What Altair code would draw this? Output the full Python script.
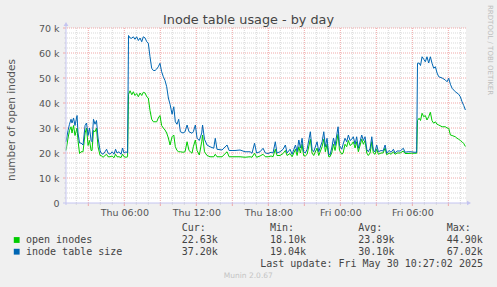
import altair as alt
import pandas as pd

# ---- data (hours since Thu 00:00, values in thousands) ----
hours = [1.14,1.31,1.43,1.56,1.64,1.77,1.89,2.06,2.14,2.27,2.39,2.56,2.73,2.85,2.98,3.10,3.23,3.31,3.43,3.56,3.68,3.81,3.98,
         4.06,4.23,4.39,4.52,4.64,4.81,4.98,5.14,5.27,5.39,5.56,5.73,5.85,5.98,6.14,6.27,
         6.35,6.48,6.62,6.75,6.89,7.03,7.17,7.31,7.45,7.58,7.73,7.87,8.00,
         8.14,8.28,8.42,8.56,8.70,8.83,8.97,9.11,9.25,9.39,9.53,9.67,9.81,
         9.98,10.12,10.25,10.39,10.53,10.67,10.89,11.06,11.23,11.39,11.64,11.75,11.92,12.06,12.25,
         12.45,12.52,12.68,12.89,13.14,13.45,13.58,13.72,14.14,14.56,14.73,15.22,15.64,16.06,16.48,16.64,
         16.85,17.02,17.31,17.56,17.75,17.98,18.23,18.39,18.58,18.72,18.98,19.23,19.42,19.56,19.81,19.98,
         20.26,20.40,20.54,20.67,20.81,20.94,21.08,21.23,21.50,21.64,21.78,22.06,22.20,22.48,22.62,22.75,
         22.89,23.03,23.14,23.28,23.43,23.56,23.81,23.93,24.12,24.23,24.39,24.53,24.67,24.81,24.95,25.08,
         25.23,25.36,25.50,25.78,25.92,26.06,26.20,26.33,26.48,26.62,26.75,26.89,27.03,27.17,27.39,27.56,
         27.73,27.86,28.06,28.23,28.42,28.56,28.73,28.98,29.25,29.39,29.64,29.95,30.14,30.36,
         30.43,30.56,30.68,30.81,30.95,31.08,31.22,31.36,31.50,31.64,31.78,31.92,32.06,32.20,
         32.48,32.75,32.89,33.03,33.17,33.31,33.58,33.72,33.86,34.00,34.14,34.28,34.42]

inode_table_size = [24.5,29.0,31.5,33.5,32.0,34.0,31.0,35.0,28.0,24.0,24.0,23.2,
    31.0,32.0,27.0,30.0,25.0,24.5,33.5,31.5,33.0,26.0,21.0,
    20.0,19.5,20.5,21.5,20.0,19.5,20.5,19.5,21.5,20.0,20.5,19.5,22.0,20.0,20.5,20.0,
    67.0,66.0,65.9,66.5,65.5,66.5,65.0,66.0,64.5,66.5,66.0,64.5,63.9,
    58.5,53.9,53.0,53.0,53.6,54.5,55.9,52.5,50.5,49.0,46.5,42.0,39.5,
    35.5,38.5,32.5,31.5,33.5,28.5,28.0,28.5,31.2,28.5,27.9,28.5,31.2,25.9,25.0,
    28.0,31.2,25.5,23.2,22.5,21.9,25.9,21.5,21.2,23.2,21.0,21.0,21.2,20.5,20.5,19.9,
    23.9,20.0,20.5,21.9,20.0,19.8,20.3,20.0,24.5,20.0,20.5,21.5,23.2,20.0,21.5,19.5,
    23.2,20.5,25.2,22.0,25.9,20.5,20.0,21.5,28.5,21.5,20.5,24.5,20.5,24.5,28.5,22.5,
    25.9,19.5,19.2,22.0,26.0,23.0,30.5,23.0,21.5,23.5,25.9,24.5,27.2,25.0,25.5,26.5,
    23.5,26.5,21.9,27.2,25.0,26.5,21.5,20.5,21.9,26.5,21.0,20.5,23.2,20.5,21.0,20.8,
    23.2,19.9,21.0,20.3,21.5,20.0,20.8,20.8,21.9,20.3,20.5,20.5,20.3,20.3,
    55.9,56.0,55.0,58.5,57.5,56.5,58.5,56.0,58.5,55.9,53.9,54.5,52.0,50.5,
    50.0,49.2,48.5,49.9,47.5,45.9,44.5,44.0,43.5,42.5,40.5,39.0,37.2]

open_inodes = [21.0,26.0,29.0,30.5,28.0,31.0,27.0,30.0,25.0,19.8,20.5,20.5,
    28.0,30.0,23.0,25.0,21.0,21.0,29.0,28.5,30.0,22.5,19.0,
    19.0,18.3,19.0,19.5,18.5,18.5,18.8,18.1,19.5,18.5,18.5,18.2,19.5,18.5,18.3,18.5,
    43.5,44.9,43.3,44.5,43.0,43.8,42.5,44.0,43.0,44.3,44.0,42.5,42.0,
    37.0,33.5,32.5,32.5,32.5,34.0,35.0,31.0,30.0,29.2,28.0,26.0,23.2,
    26.5,27.2,22.5,21.0,20.5,20.5,20.3,20.5,24.5,21.0,19.9,22.5,25.2,21.0,19.2,
    24.5,27.2,20.5,19.0,18.5,18.5,19.5,18.5,18.5,20.5,18.5,18.5,18.5,18.3,18.5,18.3,
    19.9,18.3,18.8,19.5,18.5,18.5,18.8,18.5,21.5,19.0,19.0,19.8,21.0,19.0,19.8,18.5,
    21.5,19.0,22.5,20.0,23.5,19.0,18.8,19.5,25.5,20.0,19.0,22.0,19.0,22.5,25.5,20.5,
    23.5,18.5,18.5,20.0,23.5,21.0,27.5,21.0,19.5,20.0,23.5,22.5,25.0,23.0,23.5,24.5,
    22.0,24.5,20.5,25.5,23.5,25.0,20.0,19.0,20.0,24.5,20.0,19.5,21.5,19.5,20.0,20.0,
    22.0,19.3,20.0,19.5,20.5,19.5,20.0,20.0,20.8,19.8,19.8,19.9,19.9,19.9,
    33.0,33.9,33.0,35.9,34.5,35.0,33.2,34.5,36.3,32.9,31.9,32.5,31.5,31.2,
    30.5,30.5,30.0,29.9,27.2,27.0,26.5,25.9,25.5,25.0,24.5,23.8,22.6]

series_names = ["open inodes", "inode table size"]
series_colors = ["#00cc00", "#0066b3"]
stat_headers = ["Cur:", "Min:", "Avg:", "Max:"]
stats = [["22.63k", "18.10k", "23.89k", "44.90k"],
         ["37.20k", "19.04k", "30.10k", "67.02k"]]
x_tick_values = [6, 12, 18, 24, 30]
x_tick_labels = ["Thu 06:00", "Thu 12:00", "Thu 18:00", "Fri 00:00", "Fri 06:00"]
y_tick_values = [0, 10, 20, 30, 40, 50, 60, 70]
x_major = [3, 6, 9, 12, 15, 18, 21, 24, 27, 30, 33]
x_minor = [h for h in range(2, 35) if h % 3 != 0]
y_major = [10, 20, 30, 40, 50, 60, 70]
y_minor = [v for v in range(2, 70, 2) if v % 10 != 0]

title_text = "Inode table usage - by day"
y_title = "number of open inodes"
side_text = "RRDTOOL / TOBI OETIKER"
update_text = "Last update: Fri May 30 10:27:02 2025"
version_text = "Munin 2.0.67"

W, H = 400, 175
x_scale = alt.Scale(domain=[1.14, 34.47], nice=False, zero=False)
y_scale = alt.Scale(domain=[0, 70], nice=False)
SANS = "DejaVu Sans"
MONO = "DejaVu Sans Mono"
AXIS_COL = "#c4c4f0"
GRID_MINOR = "#d9d9d9"
GRID_MAJOR = "#f0a8a8"

one = alt.Data(values=[{}])

label_js = "[" + ",".join("'%s'" % s for s in x_tick_labels) + "]"
x_axis = alt.Axis(values=x_tick_values, labelExpr=label_js + "[round(datum.value/6)-1]",
                  grid=False, domain=False, ticks=False, title=None,
                  labelFont=SANS, labelFontSize=9.5, labelColor="#555555", labelPadding=4)
y_axis = alt.Axis(values=y_tick_values, labelExpr="datum.value == 0 ? '0' : datum.value + ' k'",
                  grid=False, domain=False, ticks=False, title=None,
                  labelFont=SANS, labelFontSize=9.5, labelColor="#555555", labelPadding=7)

X = lambda: alt.X("h:Q", scale=x_scale, axis=x_axis)
Y = lambda: alt.Y("v:Q", scale=y_scale, axis=y_axis)

def vgrid(vals, color):
    return alt.Chart(pd.DataFrame({"h": vals})).mark_rule(
        color=color, strokeDash=[1, 1], strokeWidth=1).encode(x=X())

def hgrid(vals, color):
    return alt.Chart(pd.DataFrame({"v": vals})).mark_rule(
        color=color, strokeDash=[1, 1], strokeWidth=1).encode(y=Y())

def xticks(vals, color, ln):
    return alt.Chart(pd.DataFrame({"h": vals})).mark_rule(color=color, strokeWidth=1).encode(
        x=X(), y=alt.value(H), y2=alt.value(H + ln))

def yticks(vals, color, ln):
    return alt.Chart(pd.DataFrame({"v": vals})).mark_rule(color=color, strokeWidth=1).encode(
        y=Y(), x=alt.value(-ln), x2=alt.value(0))

df_open = pd.DataFrame({"h": hours, "v": open_inodes})
df_table = pd.DataFrame({"h": hours, "v": inode_table_size})

line_open = alt.Chart(df_open).mark_line(color=series_colors[0], strokeWidth=1).encode(x=X(), y=Y())
line_table = alt.Chart(df_table).mark_line(color=series_colors[1], strokeWidth=1).encode(x=X(), y=Y())

# axis lines with arrows
y_axis_line = alt.Chart(one).mark_rule(color=AXIS_COL, strokeWidth=1).encode(
    x=alt.value(0), y=alt.value(-3), y2=alt.value(H + 2))
x_axis_line = alt.Chart(one).mark_rule(color=AXIS_COL, strokeWidth=1).encode(
    x=alt.value(-3), x2=alt.value(W + 1), y=alt.value(H))
y_arrow = alt.Chart(one).mark_point(shape="triangle-up", filled=True, size=22, color=AXIS_COL, opacity=1).encode(
    x=alt.value(0), y=alt.value(-4))
x_arrow = alt.Chart(one).mark_point(shape="triangle-right", filled=True, size=22, color=AXIS_COL, opacity=1).encode(
    x=alt.value(W + 3), y=alt.value(H))

def txt(s, x, y, size, color, font=SANS, align="left", baseline="middle", angle=0):
    return alt.Chart(pd.DataFrame({"t": [s]})).mark_text(
        font=font, fontSize=size, color=color, align=align, baseline=baseline, angle=angle).encode(
        text="t:N", x=alt.value(x), y=alt.value(y))

texts = [
    txt(title_text, 182.5, -4, 12.8, "#444444", baseline="alphabetic", align="center"),
    txt(y_title, -54, 92, 10.5, "#555555", align="center", angle=270),
    txt(side_text, 424, -23, 7, "#bdbdbd", align="left", angle=90),
    txt(update_text, 417, 236, 10, "#444444", font=MONO, align="right"),
    txt(version_text, 182.3, 248.3, 7.5, "#c4c4c4", align="center"),
]
col_x = [115.7, 204, 292.3, 380.7]
for i, hdr in enumerate(stat_headers):
    texts.append(txt(hdr, col_x[i], 200.3, 10, "#444444", font=MONO))
row_y = [212, 223.7]
for r, name in enumerate(series_names):
    texts.append(txt(name, -40, row_y[r], 10, "#444444", font=MONO))
    for i, s in enumerate(stats[r]):
        texts.append(txt(s, col_x[i], row_y[r], 10, "#444444", font=MONO))
    texts.append(alt.Chart(one).mark_square(size=34, color=series_colors[r], opacity=1).encode(
        x=alt.value(-49.3), y=alt.value(row_y[r])))

chart = alt.layer(
    vgrid(x_minor, GRID_MINOR), hgrid(y_minor, GRID_MINOR),
    vgrid(x_major, GRID_MAJOR), hgrid(y_major, GRID_MAJOR),
    xticks(x_minor, GRID_MINOR, 2), xticks(x_major, GRID_MAJOR, 3),
    yticks(y_minor, GRID_MINOR, 2), yticks(y_major, GRID_MAJOR, 3),
    line_open, line_table,
    y_axis_line, x_axis_line, y_arrow, x_arrow,
    *texts
).properties(
    width=W, height=H,
    autosize=alt.AutoSizeParams(type="none"),
    padding={"left": 66, "top": 28, "right": 31, "bottom": 84},
    background="#f0f0f0",
).configure_view(fill="white", stroke=None)

chart.save("out.html", embed_options={"renderer": "svg", "actions": False})
